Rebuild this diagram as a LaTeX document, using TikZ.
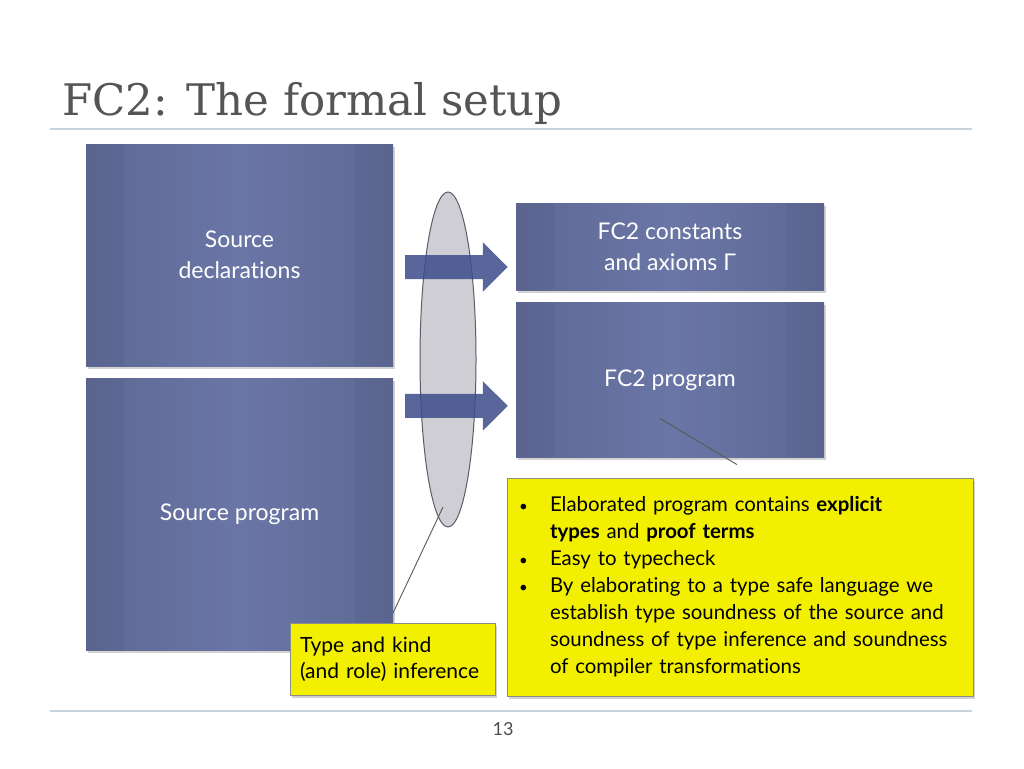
\documentclass[tikz,border=0pt]{standalone}
\usepackage{fontspec}
\setmainfont{Lato}[Ligatures=NoCommon]
\newfontfamily\titlefont{DejaVu Serif}
\usetikzlibrary{positioning, shapes.geometric, shadows, arrows.meta, backgrounds}

\definecolor{boxmid}{RGB}{106,118,166}
\definecolor{boxedge}{RGB}{94,104,148}
\definecolor{arrowblue}{RGB}{60,76,138}
\definecolor{noteyellow}{RGB}{242,240,0}
\definecolor{rulecol}{RGB}{200,212,222}
\definecolor{ellfill}{RGB}{206,206,212}
\definecolor{ellline}{RGB}{92,92,104}
\definecolor{titlegray}{RGB}{85,85,85}

\pgfdeclarelayer{front}
\pgfsetlayers{background,main,front}

\tikzset{
	bluebox/.style={rectangle, inner sep=0pt, minimum width=307pt, text=white, align=center,
		left color=boxedge, right color=boxedge, middle color=boxmid,
		font=\fontsize{23}{31}\selectfont,
		drop shadow={shadow xshift=1.5pt, shadow yshift=-3pt, opacity=0.35},
		path picture={
			\fill[black, opacity=0.03] (path picture bounding box.south west) rectangle ([xshift=38pt]path picture bounding box.north west);
			\fill[black, opacity=0.03] (path picture bounding box.south east) rectangle ([xshift=-38pt]path picture bounding box.north east);
		}},
	note/.style={rectangle, fill=noteyellow, draw=black!45, line width=0.8pt, align=left,
		drop shadow={shadow xshift=1.5pt, shadow yshift=-3pt, opacity=0.35}},
	bigarrow/.style={draw=arrowblue, line width=24pt, -{Triangle[length=25pt, width=48pt]}},
	pointer/.style={draw=black!65, line width=0.9pt},
}
\newcommand{\bul}{{\fontsize{15}{15}\selectfont\textbullet}}

\begin{document}
\begin{tikzpicture}[x=1pt, y=-1pt]
	\useasboundingbox[fill=white] (0,0) rectangle (1024,768);

	% title and rules
	\node[anchor=base west, inner sep=0pt, text=titlegray, font=\titlefont\fontsize{43.5}{44}\selectfont] (title) at (62,115) {FC2: The formal setup};
	\draw[rulecol, line width=1.2pt] (50,129) -- (972,129);
	\draw[rulecol, line width=1.2pt] (50,711) -- (972,711);
	\node[text=black!70, font=\fontsize{18}{18}\selectfont] (pagenum) at (503,729) {13};

	% the boxes
	\node[bluebox, minimum height=222pt] (srcdecl) at (239.5,255) {Source\\declarations};
	\node[bluebox, minimum width=308pt, minimum height=87pt] (fcconst) at (670,246.5) {FC2 constants\\and axioms Γ};
	\node[bluebox, minimum width=308pt, minimum height=155pt, below=12pt of fcconst] (fcprog) {FC2 program};

	\node[ellipse, fill=ellfill, draw=ellline, line width=1pt, inner sep=0pt,
		minimum width=56pt, minimum height=335pt] (inferell) at (448,359.5) {};

	% the two arrows
	\coordinate (a1e) at ([xshift=-8pt, yshift=-20.5pt]fcconst.west);
	\coordinate (a2e) at ([xshift=-8pt, yshift=-26pt]fcprog.west);
	\begin{scope}[transparency group, opacity=0.85]
		\draw[bigarrow] ([xshift=12pt]srcdecl.east |- a1e) -- (a1e);
		\draw[bigarrow] ([xshift=12pt]srcdecl.east |- a2e) -- (a2e);
	\end{scope}

	% notes
	\begin{pgfonlayer}{front}
		\node[note, minimum width=205pt, minimum height=72pt, inner xsep=10pt, text width=185pt,
			font=\fontsize{21}{26}\selectfont] (infernote) at (392.5,659) {Type and kind\\(and role) inference};
		\node[note, minimum height=218pt, inner xsep=12pt, text width=442pt,
			font=\fontsize{20.4}{27}\selectfont] (bignote) at (740,587) {%
			\begin{tabular}{@{}p{31pt}@{}l@{}}
				\bul & Elaborated program contains \textbf{explicit}\\
				     & \textbf{types} and \textbf{proof terms}\\
				\bul & Easy to typecheck\\
				\bul & By elaborating to a type safe language we\\
				     & establish type soundness of the source and\\
				     & soundness of type inference and soundness\\
				     & of compiler transformations
			\end{tabular}};
	\end{pgfonlayer}

	\draw[pointer] ([xshift=-4pt]infernote.north) -- ([xshift=-5pt, yshift=-147.5pt]inferell.center);
	\node[bluebox, minimum height=272pt, below=12pt of srcdecl] (srcprog) {Source program};
	\draw[pointer] ([xshift=-3pt, yshift=13pt]bignote.north) -- ([xshift=-10pt, yshift=-38.5pt]fcprog.center);
\end{tikzpicture}
\end{document}
